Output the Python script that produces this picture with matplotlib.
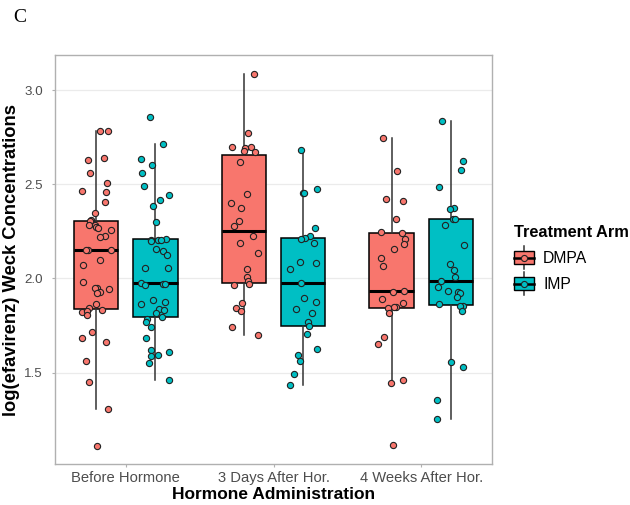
import numpy as np
import matplotlib
matplotlib.use("Agg")
import matplotlib.pyplot as plt
from matplotlib.lines import Line2D
from matplotlib.patches import Patch, Rectangle
from matplotlib.legend_handler import HandlerBase

plt.rcParams["font.family"] = ["Liberation Sans", "DejaVu Sans"]

# values (log efavirenz Weck concentrations)
timepoints = ["Before Hormone", "3 Days After Hor.", "4 Weeks After Hor."]
arms = ["DMPA", "IMP"]
arm_colors = {"DMPA": "#F8766D", "IMP": "#00BFC4"}

dmpa_before = [2.784, 2.784, 2.637, 2.628, 2.561, 2.508, 2.462, 2.460, 2.407, 2.349,
               2.310, 2.305, 2.283, 2.283, 2.274, 2.268, 2.257, 2.225, 2.221,
               2.151, 2.151, 2.150, 2.098, 2.071, 1.982, 1.949, 1.949, 1.944, 1.929, 1.921,
               1.864, 1.841, 1.823, 1.829, 1.832, 1.806, 1.714, 1.685, 1.661, 1.562,
               1.449, 1.305, 1.110]
imp_before = [2.858, 2.712, 2.634, 2.604, 2.561, 2.492, 2.443, 2.414, 2.387, 2.297,
              2.207, 2.206, 2.205, 2.204, 2.200, 2.154, 2.148, 2.124, 2.057, 2.054,
              1.974, 1.970, 1.969, 1.967, 1.885, 1.873, 1.862, 1.836, 1.832, 1.818,
              1.797, 1.783, 1.770, 1.744, 1.684, 1.618, 1.611, 1.593, 1.586, 1.549, 1.461]
dmpa_3days = [3.085, 2.773, 2.699, 2.696, 2.690, 2.678, 2.669, 2.619, 2.448, 2.402,
              2.374, 2.303, 2.280, 2.227, 2.190, 2.133, 2.050, 2.009, 1.986, 1.969,
              1.965, 1.871, 1.841, 1.827, 1.740, 1.700]
imp_3days = [2.682, 2.473, 2.452, 2.452, 2.269, 2.227, 2.216, 2.209, 2.186, 2.089,
             2.080, 2.048, 1.977, 1.898, 1.876, 1.838, 1.815, 1.770, 1.747, 1.703,
             1.627, 1.593, 1.562, 1.491, 1.434]
dmpa_4weeks = [2.745, 2.570, 2.423, 2.412, 2.317, 2.246, 2.239, 2.208, 2.183, 2.154,
               2.107, 2.064, 1.935, 1.930, 1.889, 1.868, 1.850, 1.847, 1.841, 1.818,
               1.687, 1.652, 1.461, 1.446, 1.116]
imp_4weeks = [2.835, 2.623, 2.575, 2.487, 2.372, 2.370, 2.314, 2.314, 2.283, 2.177,
              2.076, 2.045, 2.006, 1.988, 1.956, 1.935, 1.926, 1.924, 1.903, 1.863,
              1.855, 1.853, 1.827, 1.558, 1.528, 1.355, 1.254]

groups = {
    "DMPA": [dmpa_before, dmpa_3days, dmpa_4weeks],
    "IMP": [imp_before, imp_3days, imp_4weeks],
}
dodge = {"DMPA": -0.2, "IMP": 0.2}


class BoxKey(HandlerBase):
    """ggplot-style boxplot legend key: whisker, box, median, point."""

    def create_artists(self, legend, orig_handle, xdescent, ydescent,
                       width, height, fontsize, trans):
        col = orig_handle.get_facecolor()
        x0, y0 = -xdescent, -ydescent
        xc, yc = x0 + width / 2, y0 + height / 2
        ext = height * 0.4
        whisker = Line2D([xc, xc], [y0 - ext, y0 + height + ext],
                         color="#333333", lw=1.1, transform=trans)
        box = Rectangle((x0, y0), width, height, facecolor=col,
                        edgecolor="black", lw=1.0, transform=trans)
        med = Line2D([x0, x0 + width], [yc, yc], color="black", lw=1.8,
                     transform=trans)
        pt = Line2D([xc], [yc], marker="o", ms=4.4, mfc=col, mec="#222222",
                    mew=0.8, ls="", transform=trans)
        return [whisker, box, med, pt]


# like geom_jitter: small horizontal scatter, fixed seed
rng = np.random.default_rng(7)

fig = plt.figure(figsize=(6.3, 5.05), dpi=100)
ax = fig.add_axes([55 / 630, 1 - 464 / 505, 437 / 630, 409 / 505])

ax.grid(axis="y", color="#EBEBEB", linewidth=0.9)
ax.set_axisbelow(True)

for arm in arms:
    col = arm_colors[arm]
    for i, vals in enumerate(groups[arm]):
        pos = i + 1 + dodge[arm]
        ax.boxplot(
            vals, positions=[pos], widths=0.3, patch_artist=True,
            showfliers=False, showcaps=False, whis=1.5,
            boxprops=dict(facecolor=col, edgecolor="black", linewidth=1.1),
            medianprops=dict(color="black", linewidth=2.2),
            whiskerprops=dict(color="#333333", linewidth=1.1),
            zorder=2,
        )
        jit = rng.uniform(-0.1, 0.1, len(vals))
        ax.scatter(pos + jit, vals, s=20, color=col, edgecolor="#222222",
                   linewidth=0.8, zorder=3)

ax.set_xlim(0.52, 3.48)
ax.set_ylim(1.015, 3.186)
ax.set_xticks([1, 2, 3])
ax.set_xticklabels(timepoints)
ax.set_yticks([1.5, 2.0, 2.5, 3.0])
ax.set_yticklabels(["1.5", "2.0", "2.5", "3.0"])
ax.tick_params(axis="both", colors="#B0B0B0", labelcolor="#4D4D4D",
               labelsize=10.6, length=2.2, width=0.8)
ax.tick_params(axis="y", pad=6.5, labelsize=9.6)
ax.tick_params(axis="x", pad=2.8)
for sp in ax.spines.values():
    sp.set_color("#B0B0B0")
    sp.set_linewidth(1.0)

ax.set_xlabel("Hormone Administration", fontsize=12.5, fontweight="bold")
ax.set_ylabel("log(efavirenz) Weck Concentrations", fontsize=13.2, fontweight="bold")
ax.xaxis.set_label_coords(0.5, -0.057)
ax.yaxis.set_label_coords(-0.079, 0.5)

fig.text(13 / 630, 1 - 17 / 505, "C", family="Liberation Serif", fontsize=14,
         va="center", ha="left")

handles = [Patch(facecolor=arm_colors[a]) for a in arms]
fig.legend(handles, arms, loc="upper left", bbox_to_anchor=(514 / 630, 1 - 225 / 505),
           frameon=False, fontsize=11.3, title="Treatment Arm",
           title_fontproperties={"weight": "bold", "size": 11.8},
           alignment="left", handler_map={Patch: BoxKey()},
           handlelength=1.25, handleheight=0.85, labelspacing=0.7,
           handletextpad=0.6, borderaxespad=0, borderpad=0)

fig.savefig("out.png", dpi=100)
